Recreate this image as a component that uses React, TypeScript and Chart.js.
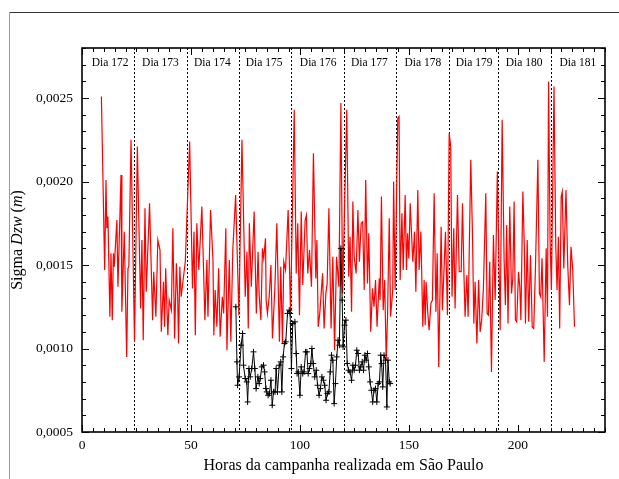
import React, { useEffect, useRef } from 'react';
import { Chart, registerables } from 'chart.js';

Chart.register(...registerables);

// ---- data (hours of campaign, sigma Dzw in metres) ----
const redHours = [
  8.9, 10.4, 11.0, 11.4, 11.9, 12.8, 13.3, 13.9, 14.4, 14.8, 16.0, 16.5, 17.9, 18.3, 19.4, 20.5, 21.1, 21.5, 22.5,
  24.1, 25.4, 26.9, 27.5, 28.1, 28.9, 29.5, 31.0, 32.4, 32.9, 33.9, 34.8, 35.8, 36.4, 37.4, 37.9, 38.4, 39.4, 40.0,
  41.0, 41.7, 42.5, 43.3, 43.9, 44.3, 44.9, 45.5, 47.4, 49.4, 50.7, 51.4, 52.0, 52.7, 53.6, 55.0, 56.4, 57.3, 57.8,
  59.0, 60.1, 60.5, 61.1, 61.9, 62.7, 63.4, 64.4, 65.0, 66.0, 66.5, 67.6, 68.3, 69.2, 70.5, 72.0, 73.4, 74.9, 75.7,
  76.3, 76.8, 77.7, 79.0, 80.0, 80.8, 81.3, 82.1, 82.8, 83.4, 84.2, 84.5, 85.1, 85.9, 86.7, 87.4, 88.5, 89.4, 90.6,
  91.2, 92.0, 92.6, 93.4, 94.6, 95.7, 97.4, 98.3, 99.0, 99.8, 100.6, 101.3, 102.4, 103.0, 103.6, 104.4, 105.3,
  106.2, 107.3, 107.8, 108.4, 109.1, 109.7, 110.4, 111.1, 111.9, 112.5, 113.3, 114.3, 115.1, 115.9, 116.8, 117.9,
  118.8, 119.6, 121.5, 122.4, 123.0, 123.7, 124.3, 124.9, 125.8, 126.6, 127.3, 128.1, 128.8, 129.5, 130.2, 131.0,
  131.6, 132.5, 133.3, 134.0, 134.7, 135.4, 136.4, 136.8, 137.4, 138.2, 138.9, 139.6, 140.2, 141.0, 141.6, 142.6,
  143.0, 143.7, 144.9, 145.5, 146.0, 146.8, 147.4, 148.3, 148.9, 149.4, 150.0, 150.6, 151.8, 152.6, 153.2, 154.1,
  154.7, 155.5, 156.4, 157.0, 157.5, 157.9, 158.7, 159.3, 160.1, 160.8, 161.6, 162.4, 163.0, 163.7, 164.8, 165.4,
  166.8, 167.7, 168.5, 169.2, 169.8, 170.6, 171.2, 172.3, 173.1, 174.0, 174.6, 175.3, 175.8, 176.6, 177.2, 178.4,
  179.2, 179.8, 180.4, 181.2, 182.0, 182.7, 183.4, 184.2, 185.3, 185.9, 186.5, 187.1, 187.9, 188.8, 189.6, 190.6,
  191.9, 192.8, 193.7, 194.3, 194.9, 195.5, 196.3, 197.1, 197.7, 198.3, 198.9, 199.5, 200.3, 200.9, 201.4, 202.3,
  203.0, 203.5, 204.3, 205.0, 205.8, 206.6, 207.3, 208.1, 209.2, 209.9, 210.5, 211.1, 212.1, 213.0, 213.6, 214.1,
  214.8, 215.4, 216.6, 217.4, 218.0, 218.6, 219.2, 219.9, 220.4, 221.1, 222.1, 222.9, 223.7, 224.4, 225.2, 226.0,
];
const redValues = [
  0.00251, 0.00147, 0.00201, 0.00172, 0.00179, 0.00119, 0.00157, 0.00117, 0.00157, 0.00149, 0.00177, 0.00137, 0.00204, 0.00122, 0.0017, 0.00095, 0.00148, 0.00149, 0.00225,
  0.00104, 0.00221, 0.00124, 0.00165, 0.00105, 0.00184, 0.00134, 0.00187, 0.00117, 0.00146, 0.00119, 0.00165, 0.00159, 0.0011, 0.0014, 0.00113, 0.00148, 0.00108, 0.00129,
  0.00123, 0.00172, 0.00106, 0.00151, 0.00131, 0.00103, 0.00149, 0.00131, 0.00152, 0.00224, 0.00136, 0.0017, 0.00108, 0.00175, 0.00147, 0.00185, 0.00117, 0.00153, 0.00119,
  0.00183, 0.00153, 0.00108, 0.00135, 0.00113, 0.00148, 0.00107, 0.00131, 0.00121, 0.00172, 0.00099, 0.00153, 0.00104, 0.00159, 0.00192, 0.0012, 0.00225, 0.00131, 0.00158,
  0.00112, 0.00175, 0.00137, 0.00182, 0.00121, 0.00158, 0.00132, 0.00117, 0.0016, 0.00154, 0.00166, 0.00129, 0.00121, 0.00131, 0.0015, 0.00106, 0.00136, 0.00175, 0.00104,
  0.00149, 0.00103, 0.00152, 0.00147, 0.00183, 0.00122, 0.00243, 0.00145, 0.00175, 0.0012, 0.00182, 0.00138, 0.00177, 0.0018, 0.00145, 0.00159, 0.00137,
  0.00217, 0.00142, 0.00165, 0.00113, 0.00121, 0.00132, 0.00145, 0.00112, 0.00133, 0.00139, 0.00184, 0.00112, 0.00155, 0.00099, 0.00155, 0.00137,
  0.00247, 0.00133, 0.00243, 0.00143, 0.00167, 0.00122, 0.00188, 0.00155, 0.00145, 0.00183, 0.00152, 0.00175, 0.00176, 0.00135, 0.00201, 0.00139,
  0.00169, 0.0011, 0.00136, 0.00125, 0.00141, 0.00113, 0.00142, 0.00129, 0.00191, 0.00123, 0.00141, 0.00093, 0.00119, 0.00178, 0.00119, 0.00135,
  0.002, 0.00135, 0.00238, 0.00239, 0.00141, 0.00181, 0.00147, 0.00192, 0.00147, 0.00169, 0.00154, 0.00187, 0.00152, 0.0017, 0.00134, 0.00195,
  0.00147, 0.0017, 0.00113, 0.00141, 0.00114, 0.0014, 0.00121, 0.00111, 0.00127, 0.00129, 0.00193, 0.00122, 0.00157, 0.00089, 0.00173, 0.00123,
  0.0017, 0.0012, 0.00229, 0.00221, 0.00131, 0.00172, 0.00124, 0.00192, 0.00146, 0.00146, 0.00187, 0.00143, 0.00119, 0.00144, 0.00119, 0.00213,
  0.00168, 0.00115, 0.0014, 0.00103, 0.00141, 0.0011, 0.00117, 0.00136, 0.00193, 0.00121, 0.0012, 0.00152, 0.00086, 0.00168, 0.00129, 0.00206,
  0.00111, 0.00237, 0.00153, 0.00126, 0.00174, 0.00115, 0.00185, 0.00133, 0.00142, 0.00188, 0.00117, 0.00116, 0.00146, 0.00137, 0.00117, 0.00194,
  0.0016, 0.00115, 0.00165, 0.00116, 0.00156, 0.00113, 0.00112, 0.00149, 0.00213, 0.00133, 0.00131, 0.00154, 0.00092, 0.0016, 0.00119, 0.0026,
  0.00165, 0.00135, 0.00257, 0.00162, 0.00135, 0.00167, 0.00112, 0.00191, 0.00194, 0.00148, 0.00195, 0.0015, 0.00126, 0.00161, 0.00147, 0.00113,
];

const blackHours = [
  70.6, 71.1, 71.4, 72.1, 73.0, 73.7, 74.1, 74.9, 75.6, 76.0, 76.6, 77.2, 77.9, 78.7, 79.3, 79.9, 80.7, 81.3, 81.8,
  82.5, 83.3, 83.8, 84.4, 84.8, 85.4, 86.0, 86.7, 87.3, 87.9, 88.6, 89.1, 89.7, 90.5, 91.2, 91.7, 92.3, 92.9, 93.5,
  94.3, 95.1, 95.5, 96.1, 96.7, 97.7, 98.3, 98.7, 99.3, 100.0, 100.6, 101.3, 101.9, 102.6, 103.2, 103.8, 104.4,
  105.0, 105.5, 106.1, 106.8, 107.5, 108.1, 108.8, 109.4, 110.1, 110.8, 111.4, 112.0, 112.6, 113.3, 113.9, 114.5,
  115.1, 115.7, 116.3, 116.9, 117.5, 118.1, 118.8, 119.4, 119.8, 120.5, 121.1, 121.7, 122.3, 123.0, 123.7, 124.3,
  124.9, 125.5, 126.1, 126.7, 127.3, 127.9, 128.6, 129.2, 129.8, 130.4, 131.0, 131.6, 132.2, 132.8, 133.4, 134.0,
  134.7, 135.3, 135.9, 136.5, 137.1, 137.5, 138.0, 138.6, 139.3, 139.9, 140.4, 141.0, 141.4,
];
const blackValues = [
  0.00125, 0.00092, 0.00078, 0.00083, 0.00102, 0.00109, 0.0009, 0.00082, 0.0008, 0.00068, 0.00088, 0.00083, 0.00088, 0.00098, 0.00088, 0.00076, 0.00083, 0.00079, 0.00082,
  0.00089, 0.0009, 0.00086, 0.00076, 0.00074, 0.00072, 0.00073, 0.00081, 0.00066, 0.00074, 0.00074, 0.00088, 0.00074, 0.0009, 0.00092, 0.00074, 0.00095, 0.00103, 0.00104,
  0.00121, 0.00123, 0.00121, 0.00088, 0.00115, 0.00116, 0.00097, 0.00085, 0.00086, 0.00072, 0.00089, 0.00085, 0.00086, 0.00098, 0.00098, 0.00085, 0.00088,
  0.00091, 0.001, 0.00091, 0.00083, 0.00087, 0.00078, 0.00072, 0.00076, 0.00083, 0.00081, 0.00078, 0.00069, 0.00073, 0.00074, 0.00086, 0.00096,
  0.00093, 0.00067, 0.00079, 0.00095, 0.00105, 0.00102, 0.0016, 0.00129, 0.00101, 0.00114, 0.00117, 0.00091, 0.00087, 0.00086, 0.00081, 0.0009,
  0.00087, 0.0009, 0.00099, 0.00097, 0.00087, 0.00089, 0.00092, 0.00087, 0.00096, 0.00093, 0.00097, 0.00089, 0.0008, 0.00075, 0.00068, 0.00075,
  0.00076, 0.00068, 0.00079, 0.0008, 0.00096, 0.00091, 0.00077, 0.00096, 0.00093, 0.00065, 0.00093, 0.0008, 0.00079,
];

const dayBoundaries = [24, 48, 72, 96, 120, 144, 168.5, 191, 215];
const dayLabels = ['Dia 172', 'Dia 173', 'Dia 174', 'Dia 175', 'Dia 176', 'Dia 177', 'Dia 178', 'Dia 179', 'Dia 180', 'Dia 181'];
const dayLabelHours = [12.9, 36, 59.8, 83.6, 108.4, 131.9, 156.4, 179.9, 202.9, 227.5];

const xAxisTitle = 'Horas da campanha realizada em São Paulo';
const yTitleParts: [string, boolean][] = [['Sigma ', false], ['Dzw', true], [' (', false], ['m', true], [')', false]];

const SERIF = '"Liberation Serif", "Times New Roman", serif';

const decorPlugin = {
  id: 'decor',
  beforeDatasetsDraw(chart: any) {
    const { ctx, chartArea: a, scales } = chart;
    const x = scales.x;
    ctx.save();
    ctx.strokeStyle = '#000';
    ctx.lineWidth = 1;
    ctx.setLineDash([2, 2]);
    dayBoundaries.forEach((h) => {
      const px = Math.round(x.getPixelForValue(h)) + 0.5;
      ctx.beginPath();
      ctx.moveTo(px, a.top);
      ctx.lineTo(px, a.bottom);
      ctx.stroke();
    });
    ctx.restore();
  },
  afterDraw(chart: any) {
    const { ctx, chartArea: a, scales } = chart;
    const x = scales.x;
    const y = scales.y;
    ctx.save();
    ctx.strokeStyle = '#000';
    ctx.lineWidth = 1;
    ctx.setLineDash([]);
    // x ticks (inward, top and bottom)
    for (let v = 0; v <= 240; v += 5) {
      const px = Math.round(x.getPixelForValue(v)) + 0.5;
      const len = v % 50 === 0 ? 7 : 4;
      ctx.beginPath();
      ctx.moveTo(px, a.bottom);
      ctx.lineTo(px, a.bottom - len);
      ctx.moveTo(px, a.top);
      ctx.lineTo(px, a.top + len);
      ctx.stroke();
    }
    // y ticks (inward, left and right)
    for (let i = 5; i <= 28; i++) {
      const py = Math.round(y.getPixelForValue(i / 10000)) + 0.5;
      const len = i % 5 === 0 ? 7 : 4;
      ctx.beginPath();
      ctx.moveTo(a.left, py);
      ctx.lineTo(a.left + len, py);
      ctx.moveTo(a.right, py);
      ctx.lineTo(a.right - len, py);
      ctx.stroke();
    }
    // frame
    ctx.lineWidth = 1.6;
    ctx.strokeRect(a.left, a.top, a.right - a.left, a.bottom - a.top);

    // day labels
    ctx.fillStyle = '#000';
    ctx.font = `11.5px ${SERIF}`;
    ctx.textAlign = 'center';
    ctx.textBaseline = 'middle';
    dayLabels.forEach((t, i) => {
      ctx.fillText(t, x.getPixelForValue(dayLabelHours[i]), a.top + 15);
    });

    // y title with italic parts
    const fs = 16;
    const fonts = (it: boolean) => `${it ? 'italic ' : ''}${fs}px ${SERIF}`;
    let total = 0;
    yTitleParts.forEach(([t, it]) => {
      ctx.font = fonts(it);
      total += ctx.measureText(t).width;
    });
    ctx.translate(18, (a.top + a.bottom) / 2);
    ctx.rotate(-Math.PI / 2);
    ctx.textAlign = 'left';
    let cx = -total / 2;
    yTitleParts.forEach(([t, it]) => {
      ctx.font = fonts(it);
      ctx.fillText(t, cx, 0);
      cx += ctx.measureText(t).width;
    });
    ctx.restore();
  },
};

export default function App() {
  const ref = useRef<HTMLCanvasElement | null>(null);

  useEffect(() => {
    if (!ref.current) return;
    const chart = new Chart(ref.current, {
      type: 'line',
      data: {
        datasets: [
          {
            label: 'red',
            data: redHours.map((h, i) => ({ x: h, y: redValues[i] })),
            borderColor: '#ff0000',
            borderWidth: 1.2,
            pointRadius: 0,
            tension: 0,
            order: 2,
          },
          {
            label: 'black',
            data: blackHours.map((h, i) => ({ x: h, y: blackValues[i] })),
            borderColor: '#000000',
            borderWidth: 1,
            pointStyle: 'cross',
            pointRadius: 3,
            pointBorderWidth: 1,
            pointBorderColor: '#000',
            tension: 0,
            order: 1,
          },
        ],
      },
      options: {
        responsive: false,
        animation: false,
        devicePixelRatio: 1,
        layout: { padding: { left: 0, top: 48, right: 14, bottom: 0 } },
        plugins: { legend: { display: false }, tooltip: { enabled: false } },
        scales: {
          x: {
            type: 'linear',
            min: 0,
            max: 240,
            grid: { display: false, drawTicks: false },
            border: { display: false },
            ticks: {
              stepSize: 50,
              includeBounds: false,
              autoSkip: false,
              maxRotation: 0,
              padding: 5,
              color: '#000',
              font: { family: SERIF, size: 13.5 },
            },
            title: {
              display: true,
              text: xAxisTitle,
              color: '#000',
              font: { family: SERIF, size: 16 },
              padding: { top: 0, bottom: 4 },
            },
            afterFit: (s: any) => {
              s.height = 47;
            },
          },
          y: {
            type: 'linear',
            min: 0.0005,
            max: 0.0028,
            grid: { display: false, drawTicks: false },
            border: { display: false },
            ticks: {
              stepSize: 0.0005,
              includeBounds: false,
              autoSkip: false,
              padding: 9,
              color: '#000',
              font: { family: SERIF, size: 13.5 },
              callback: (v: any) => Number(v).toFixed(4).replace('.', ','),
            },
            afterFit: (s: any) => {
              s.width = 82;
            },
          },
        },
      },
      plugins: [decorPlugin],
    });
    return () => chart.destroy();
  }, []);

  return (
    <div style={{ position: 'fixed', left: 0, top: 0, width: 619, height: 479, background: '#fff' }}>
      <div style={{ position: 'absolute', left: 9, top: 12, width: 610, height: 0, borderTop: '1px solid #333' }} />
      <div style={{ position: 'absolute', left: 9, top: 12, width: 0, height: 467, borderLeft: '1px solid #999' }} />
      <canvas ref={ref} width={619} height={479} style={{ position: 'absolute', left: 0, top: 0 }} />
    </div>
  );
}
